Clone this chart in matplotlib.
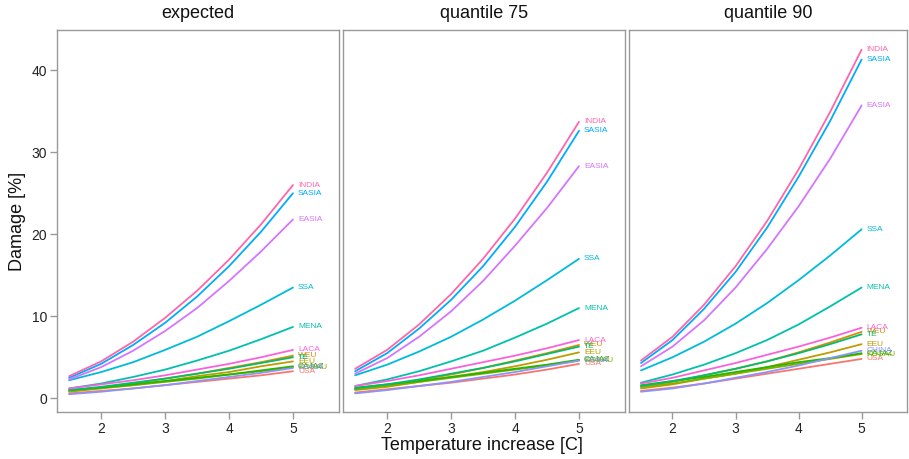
import matplotlib
matplotlib.use("Agg")
import matplotlib.pyplot as plt

plt.rcParams['font.family'] = ['Liberation Sans', 'DejaVu Sans']

temperature = [1.5, 2.0, 2.5, 3.0, 3.5, 4.0, 4.5, 5.0]
panels = ["expected", "quantile 75", "quantile 90"]
regions = ["USA", "WEU", "EEU", "KOSAU", "CAJAZ", "TE", "MENA",
           "SSA", "SASIA", "CHINA", "EASIA", "LACA", "INDIA"]
region_colors = ["#F8766D", "#E18A00", "#BE9C00", "#8CAB00", "#24B700",
                 "#00BE70", "#00C1AB", "#00BBDA", "#00ACFC", "#8B93FF",
                 "#D575FE", "#F962DD", "#FF65AC"]

# damage [%] by region, one list per panel
expected = {
    "INDIA": [2.7, 4.5, 6.9, 9.8, 13.1, 16.9, 21.2, 26.0],
    "SASIA": [2.5, 4.2, 6.5, 9.2, 12.4, 16.1, 20.3, 25.0],
    "EASIA": [2.3, 3.8, 5.8, 8.2, 11.0, 14.3, 17.9, 21.8],
    "SSA":   [2.2, 3.2, 4.4, 5.9, 7.5, 9.4, 11.4, 13.5],
    "MENA":  [1.2, 1.8, 2.6, 3.5, 4.6, 5.8, 7.2, 8.7],
    "LACA":  [1.2, 1.7, 2.2, 2.8, 3.5, 4.2, 5.0, 5.9],
    "WEU":   [0.9, 1.3, 1.8, 2.4, 3.0, 3.7, 4.4, 5.2],
    "TE":    [1.0, 1.4, 1.9, 2.4, 3.0, 3.6, 4.3, 5.0],
    "EEU":   [0.8, 1.2, 1.6, 2.1, 2.7, 3.2, 3.9, 4.5],
    "KOSAU": [0.9, 1.3, 1.6, 2.0, 2.4, 2.9, 3.3, 3.8],
    "CAJAZ": [1.0, 1.3, 1.7, 2.1, 2.5, 2.9, 3.4, 3.9],
    "CHINA": [0.5, 0.8, 1.2, 1.6, 2.1, 2.6, 3.1, 3.7],
    "USA":   [0.6, 0.9, 1.2, 1.6, 2.0, 2.4, 2.8, 3.3],
}
quantile75 = {
    "INDIA": [3.6, 5.9, 9.0, 12.7, 17.0, 21.9, 27.5, 33.7],
    "SASIA": [3.3, 5.5, 8.5, 12.0, 16.1, 20.9, 26.4, 32.6],
    "EASIA": [3.0, 4.9, 7.5, 10.6, 14.3, 18.6, 23.2, 28.3],
    "SSA":   [2.8, 4.1, 5.7, 7.5, 9.6, 11.9, 14.4, 17.0],
    "MENA":  [1.5, 2.3, 3.3, 4.5, 5.8, 7.4, 9.1, 11.0],
    "LACA":  [1.5, 2.1, 2.8, 3.6, 4.4, 5.2, 6.1, 7.1],
    "WEU":   [1.1, 1.6, 2.2, 2.9, 3.7, 4.6, 5.5, 6.5],
    "TE":    [1.2, 1.7, 2.3, 3.0, 3.7, 4.5, 5.4, 6.3],
    "EEU":   [1.0, 1.4, 2.0, 2.6, 3.2, 3.9, 4.7, 5.6],
    "KOSAU": [1.1, 1.5, 2.0, 2.5, 3.0, 3.5, 4.0, 4.6],
    "CAJAZ": [1.3, 1.7, 2.1, 2.6, 3.1, 3.6, 4.1, 4.7],
    "CHINA": [0.6, 1.0, 1.5, 2.0, 2.6, 3.2, 3.9, 4.6],
    "USA":   [0.7, 1.1, 1.5, 1.9, 2.4, 2.9, 3.5, 4.2],
}
quantile90 = {
    "INDIA": [4.6, 7.5, 11.4, 16.1, 21.6, 27.9, 34.9, 42.5],
    "SASIA": [4.3, 7.1, 10.9, 15.4, 20.8, 27.0, 33.8, 41.3],
    "EASIA": [3.9, 6.3, 9.5, 13.5, 18.2, 23.4, 29.2, 35.7],
    "SSA":   [3.4, 5.0, 6.9, 9.1, 11.6, 14.4, 17.4, 20.6],
    "MENA":  [1.9, 2.9, 4.1, 5.5, 7.1, 9.0, 11.2, 13.5],
    "LACA":  [1.8, 2.5, 3.4, 4.3, 5.3, 6.3, 7.4, 8.6],
    "WEU":   [1.4, 2.0, 2.8, 3.6, 4.5, 5.6, 6.8, 8.1],
    "TE":    [1.5, 2.1, 2.8, 3.6, 4.5, 5.5, 6.6, 7.8],
    "EEU":   [1.2, 1.7, 2.4, 3.0, 3.8, 4.7, 5.6, 6.6],
    "KOSAU": [1.4, 1.8, 2.4, 3.0, 3.6, 4.2, 4.8, 5.4],
    "CAJAZ": [1.6, 2.1, 2.6, 3.2, 3.8, 4.4, 4.9, 5.5],
    "CHINA": [0.8, 1.2, 1.8, 2.5, 3.2, 4.0, 4.9, 5.8],
    "USA":   [0.9, 1.3, 1.8, 2.4, 3.0, 3.6, 4.2, 4.8],
}
panel_data = [expected, quantile75, quantile90]

W, H = 909, 459
fig = plt.figure(figsize=(W / 100, H / 100), dpi=100)

# panel boxes in pixels: left, right
boxes = [(57, 339), (343, 625), (629, 907)]
top_px, bottom_px = 30, 412
frame_color = "#999999"

for i, (name, data) in enumerate(zip(panels, panel_data)):
    l, r = boxes[i]
    ax = fig.add_axes([l / W, 1 - bottom_px / H, (r - l) / W, (bottom_px - top_px) / H])
    for reg, col in zip(regions, region_colors):
        vals = data[reg]
        ax.plot(temperature, vals, color=col, lw=1.3, solid_capstyle="round")
        ax.text(temperature[-1] + 0.08, vals[-1], reg, color=col,
                fontsize=6, ha="left", va="center")
    ax.set_xlim(1.31, 5.72)
    ax.set_ylim(-1.67, 44.9)
    ax.set_xticks([2, 3, 4, 5])
    ax.set_yticks([0, 10, 20, 30, 40])
    for s in ax.spines.values():
        s.set_color(frame_color)
        s.set_linewidth(1.0)
    ax.tick_params(axis="both", color=frame_color, length=5, width=1,
                   labelsize=10, labelcolor="#222222", pad=2)
    if i > 0:
        ax.tick_params(axis="y", left=False, labelleft=False)
    ax.set_title(name, fontsize=13, pad=9, color="#111111")

fig.text((57 + 907) / 2 / W, 1 - 445 / H, "Temperature increase [C]",
         ha="center", va="center", fontsize=13, color="#111111")
fig.text(18 / W, 1 - 221 / H, "Damage [%]", rotation=90,
         ha="center", va="center", fontsize=13, color="#111111")

fig.savefig("out.png", dpi=100)
